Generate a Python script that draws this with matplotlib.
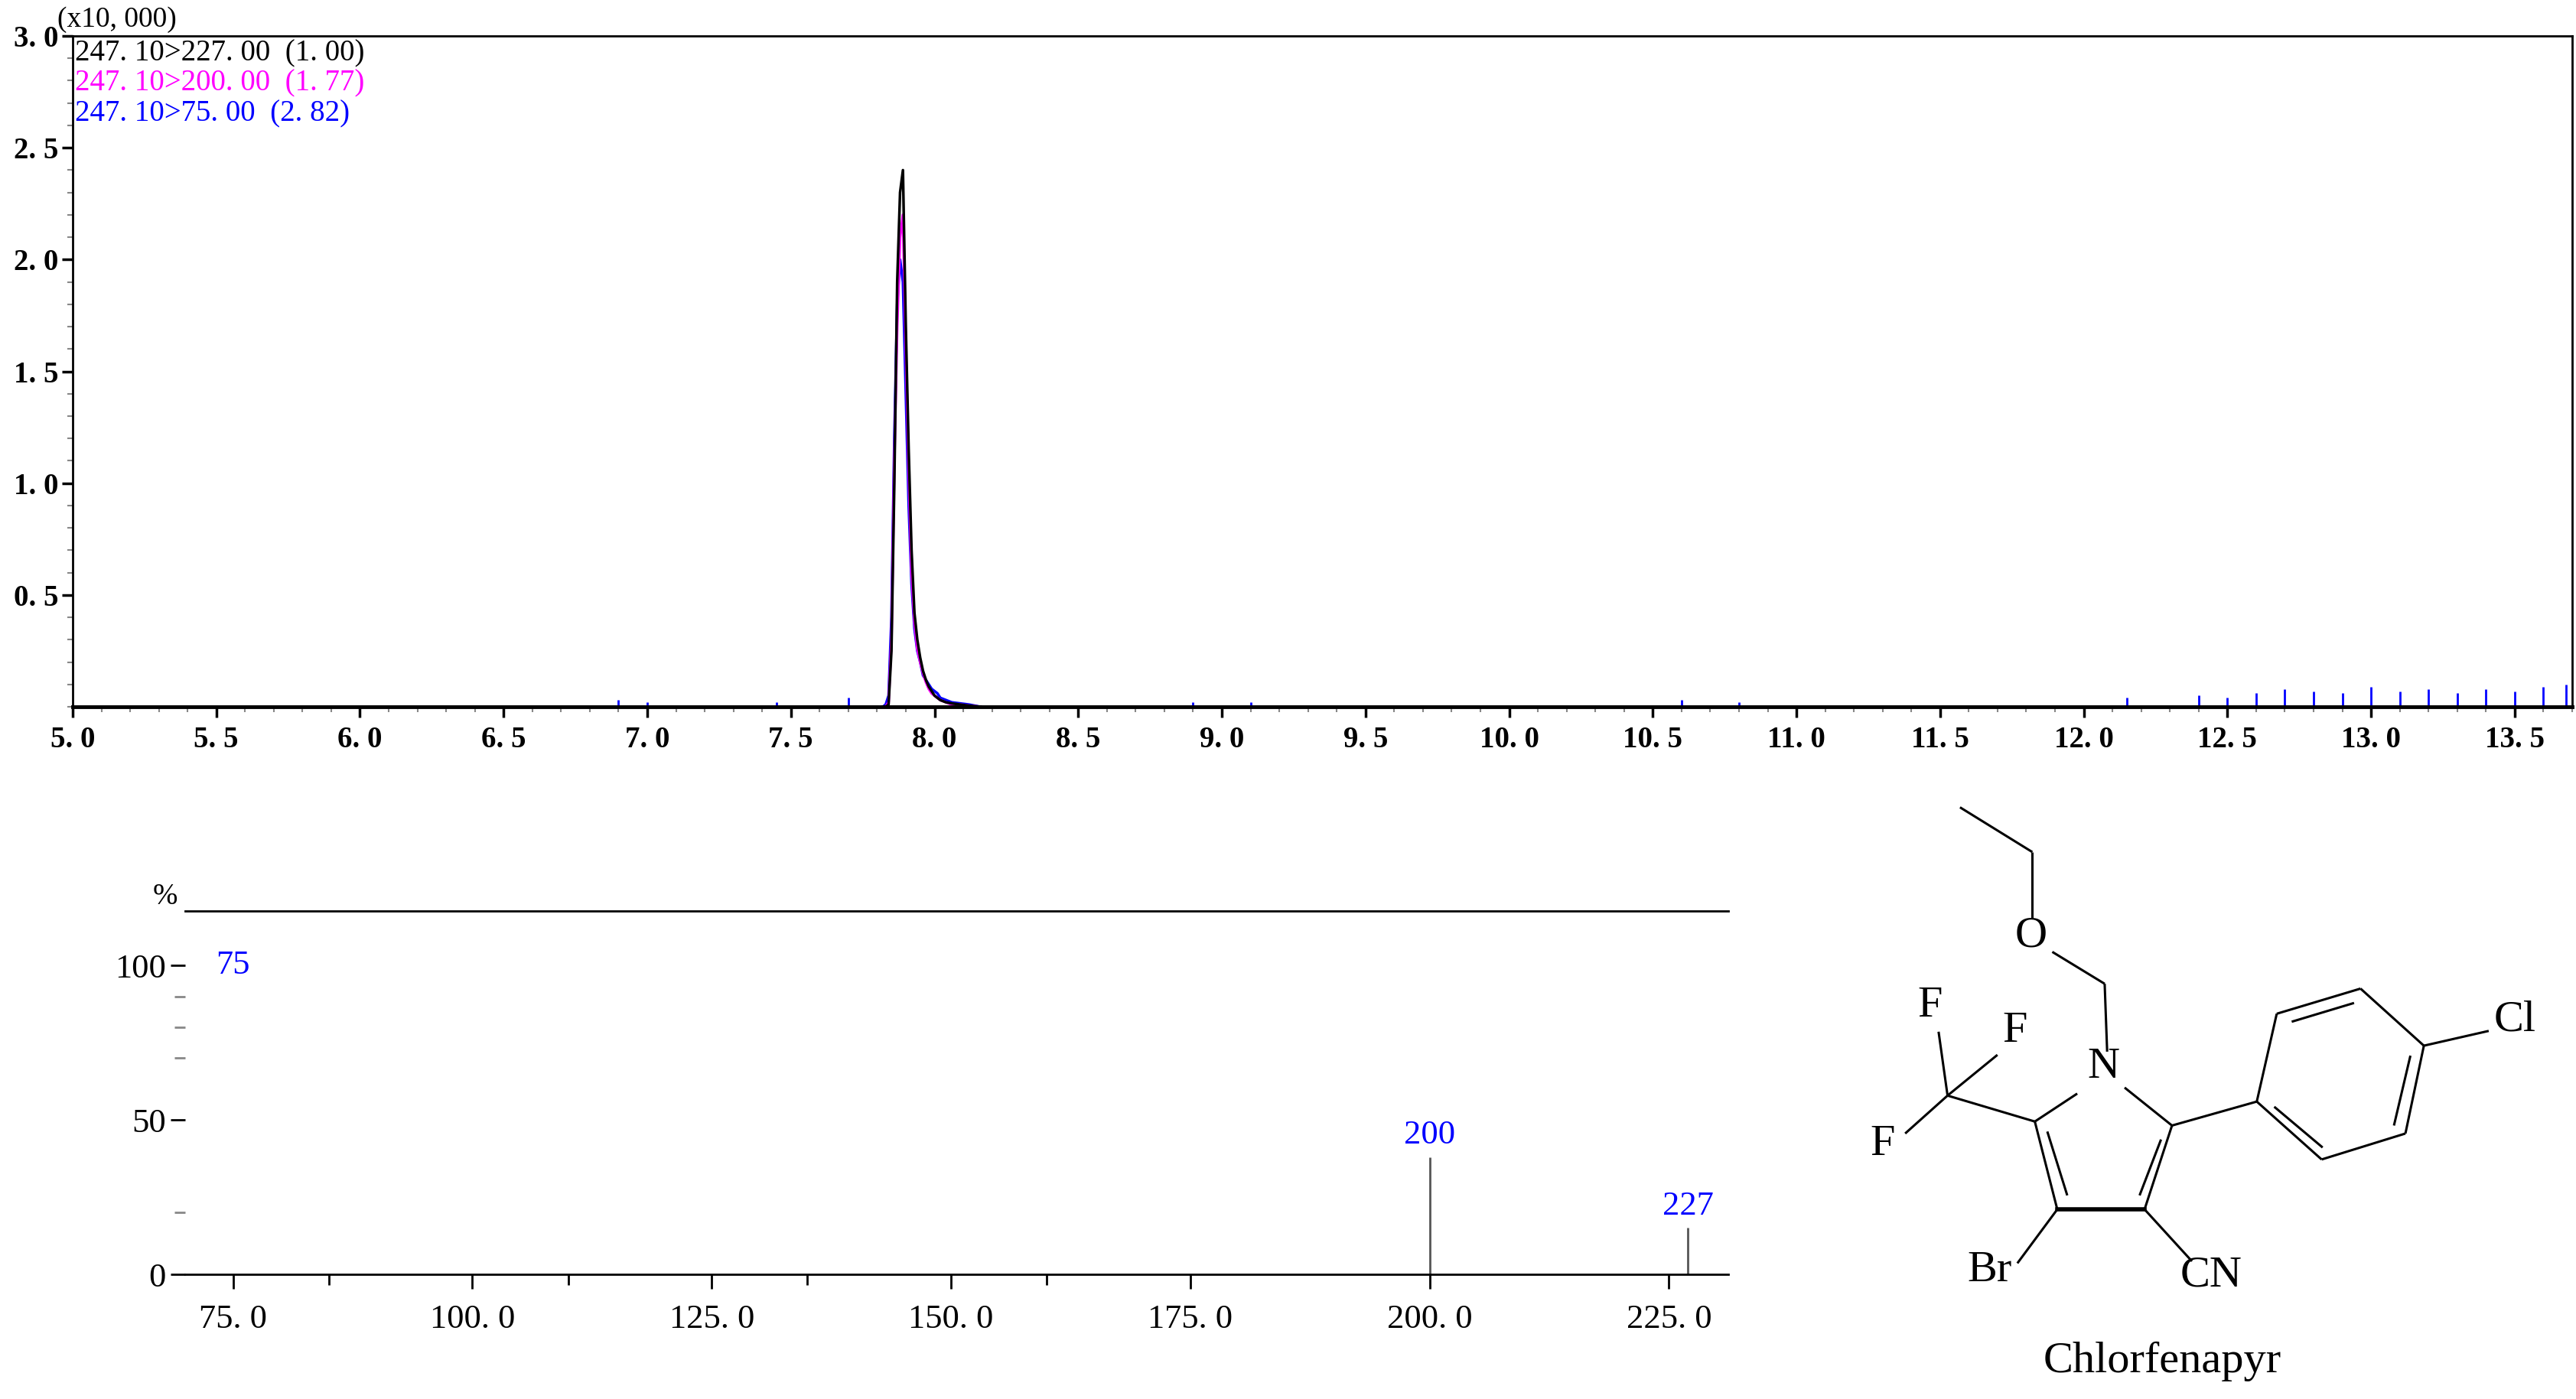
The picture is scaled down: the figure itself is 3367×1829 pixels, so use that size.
import matplotlib.pyplot as plt
from matplotlib.ticker import MultipleLocator, FixedLocator

plt.rcParams['font.family'] = ['Liberation Serif', 'DejaVu Serif']

# ---- chromatogram data (retention time in min, intensity x10,000) ----
rt = [7.82, 7.83, 7.84, 7.85, 7.86, 7.87, 7.88, 7.89, 7.90, 7.91, 7.92, 7.93, 7.94,
      7.95, 7.96, 7.97, 7.98, 7.99, 8.00, 8.01, 8.02, 8.04, 8.06, 8.09, 8.12, 8.16]
trace_227 = [0, 0, 0.01, 0.25, 1.0, 1.9, 2.3, 2.4, 1.7, 1.15, 0.7, 0.42, 0.3,
             0.22, 0.16, 0.12, 0.09, 0.07, 0.05, 0.04, 0.03, 0.02, 0.015, 0.01, 0.005, 0]
trace_200 = [0, 0, 0.02, 0.3, 1.1, 1.7, 2.1, 2.2, 1.6, 1.05, 0.6, 0.38, 0.26,
             0.2, 0.15, 0.11, 0.08, 0.06, 0.05, 0.04, 0.03, 0.02, 0.01, 0.01, 0.005, 0]
trace_75 = [0, 0.01, 0.05, 0.4, 1.2, 1.8, 2.0, 1.9, 1.4, 0.9, 0.55, 0.35, 0.25,
            0.2, 0.14, 0.12, 0.1, 0.08, 0.07, 0.06, 0.04, 0.03, 0.02, 0.015, 0.01, 0]
# baseline noise of the 75 trace (visible spikes)
noise_rt = [5.0, 6.9, 7.0, 7.45, 7.7, 8.9, 9.1, 10.6, 10.8, 12.15, 12.4, 12.5, 12.6, 12.7,
            12.8, 12.9, 13.0, 13.1, 13.2, 13.3, 13.4, 13.5, 13.6, 13.68]
noise_75 = [0, 0.03, 0.02, 0.02, 0.04, 0.02, 0.02, 0.03, 0.02, 0.04, 0.05, 0.04, 0.06, 0.08,
            0.07, 0.06, 0.09, 0.07, 0.08, 0.06, 0.08, 0.07, 0.09, 0.1]
legend_lines = ["247. 10>227. 00  (1. 00)", "247. 10>200. 00  (1. 77)", "247. 10>75. 00  (2. 82)"]
trace_colors = ['black', '#ff00ff', '#0000ff']

# ---- product ion spectrum ----
mz = [75, 200, 227]
rel_int = [100, 38, 15]
mz_labels = ['75', '200', '227']

fig = plt.figure(figsize=(33.67, 18.29), dpi=100)

# ===== top chromatogram =====
ax = fig.add_axes([0.0282, 0.4948, 0.9703, 0.4795])
ax.vlines(noise_rt, 0, noise_75, color='#0000ff', lw=2)
ax.plot([5.0, 7.82], [0, 0], color='black', lw=2)
ax.plot([8.16, 13.7], [0, 0], color='black', lw=2)
ax.plot(rt, trace_75, color=trace_colors[2], lw=2.5)
ax.plot(rt, trace_200, color=trace_colors[1], lw=2.5)
ax.plot(rt, trace_227, color=trace_colors[0], lw=2.5)
ax.set_xlim(5.0, 13.7)
ax.set_ylim(0, 3.0)
ax.xaxis.set_major_locator(MultipleLocator(0.5))
ax.xaxis.set_minor_locator(MultipleLocator(0.1))
ax.yaxis.set_major_locator(FixedLocator([0.5, 1.0, 1.5, 2.0, 2.5, 3.0]))
ax.yaxis.set_minor_locator(MultipleLocator(0.1))
ax.set_xticklabels([f"{v:.1f}".replace('.', '. ') for v in ax.get_xticks()])
ax.set_yticklabels([f"{v:.1f}".replace('.', '. ') for v in ax.get_yticks()])
ax.tick_params(axis='both', which='major', labelsize=28, length=10, width=2.5, direction='out')
ax.tick_params(axis='both', which='minor', length=5, width=1.5, direction='out', color='#888888')
ax.tick_params(axis='x', pad=8)
for lab in ax.get_xticklabels() + ax.get_yticklabels():
    lab.set_fontweight('bold')
for s in ax.spines.values():
    s.set_linewidth(2)
ax.spines['bottom'].set_linewidth(3.5)
ax.text(-0.006, 1.005, "(x10, 000)", transform=ax.transAxes, fontsize=27, va='bottom', ha='left')
for i, (txt, c) in enumerate(zip(legend_lines, trace_colors)):
    ax.text(0.001, 0.995 - i * 0.045, txt, transform=ax.transAxes, fontsize=28,
            color=c, va='top', ha='left')

# ===== bottom spectrum =====
ax2 = fig.add_axes([0.0719, 0.0891, 0.5990, 0.2597])
for m, r in zip(mz, rel_int):
    if m != 75:
        ax2.vlines(m, 0, r, color='#555555', lw=2)
ax2.text(mz[0], rel_int[0], mz_labels[0], color='#0000ff', fontsize=32, ha='center', va='center')
ax2.text(mz[1], rel_int[1] + 2, mz_labels[1], color='#0000ff', fontsize=32, ha='center', va='bottom')
ax2.text(mz[2], rel_int[2] + 2, mz_labels[2], color='#0000ff', fontsize=32, ha='center', va='bottom')
ax2.set_xlim(70, 231.2)
ax2.set_ylim(0, 117.6)
ax2.spines['left'].set_visible(False)
ax2.spines['right'].set_visible(False)
ax2.spines['top'].set_linewidth(2)
ax2.spines['bottom'].set_linewidth(2)
ax2.xaxis.set_major_locator(FixedLocator([75, 100, 125, 150, 175, 200, 225]))
ax2.xaxis.set_minor_locator(FixedLocator([85, 110, 135, 160]))
ax2.set_xticklabels([f"{v:.1f}".replace('.', '. ') for v in ax2.get_xticks()])
ax2.yaxis.set_major_locator(FixedLocator([0, 50, 100]))
ax2.yaxis.set_minor_locator(FixedLocator([20, 70, 80, 90]))
ax2.tick_params(axis='x', which='major', labelsize=32, length=14, width=2, direction='out', pad=14)
ax2.tick_params(axis='x', which='minor', length=10, width=2, direction='out')
ax2.tick_params(axis='y', which='major', labelsize=32, length=14, width=2, direction='out', pad=4)
ax2.tick_params(axis='y', which='minor', length=10, width=2, direction='out', color='#888888')
ax2.text(-0.005, 1.0, "%", transform=ax2.transAxes, fontsize=28, ha='right', va='bottom')

# ===== chemical structure (coordinates in drawing units) =====
ax3 = fig.add_axes([2350 / 3367, 0.0, 1017 / 3367, 809 / 1829])
ax3.set_xlim(0, 1560)
ax3.set_ylim(1550, 0)
ax3.axis('off')
bonds = [
    ((325, 68), (470, 180)), ((470, 180), (470, 345)),
    ((510, 430), (615, 510)), ((615, 510), (620, 680)),
    ((560, 785), (475, 855)), ((475, 855), (520, 1075)),
    ((695, 1075), (750, 865)), ((655, 770), (750, 865)),
    ((500, 880), (540, 1040)), ((685, 1040), (728, 900)),
    ((475, 855), (300, 790)), ((300, 790), (282, 630)),
    ((300, 790), (400, 688)), ((300, 790), (215, 885)),
    ((520, 1075), (440, 1210)), ((695, 1075), (790, 1205)),
    ((750, 865), (920, 805)),
    ((920, 805), (960, 585)), ((960, 585), (1128, 522)), ((1128, 522), (1255, 665)),
    ((1255, 665), (1218, 885)), ((1218, 885), (1050, 950)), ((1050, 950), (920, 805)),
    ((990, 605), (1115, 558)), ((1195, 865), (1228, 690)), ((955, 818), (1052, 920)),
    ((1255, 665), (1385, 628)),
]
for (x0, y0), (x1, y1) in bonds:
    ax3.plot([x0, x1], [y0, y1], color='black', lw=2.2, solid_capstyle='butt')
ax3.plot([520, 695], [1075, 1075], color='black', lw=4)
atoms = [('O', 468, 390), ('N', 612, 718), ('F', 265, 565), ('F', 435, 628), ('F', 170, 912),
         ('Br', 385, 1228), ('CN', 828, 1240), ('Cl', 1438, 600)]
for t, x, y in atoms:
    ax3.text(x, y, t, fontsize=42, ha='center', va='center')
ax3.text(730, 1455, 'Chlorfenapyr', fontsize=42, ha='center', va='center')

fig.savefig('out.png', dpi=100)
